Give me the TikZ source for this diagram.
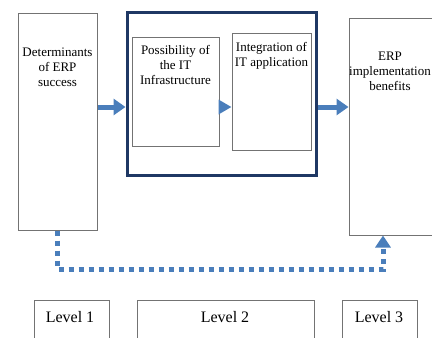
\documentclass[tikz,border=0pt]{standalone}
\usepackage{fontspec}
\setmainfont{Liberation Serif}
\usetikzlibrary{arrows.meta}
\definecolor{arrblue}{RGB}{74,126,187}
\definecolor{navy}{RGB}{31,56,100}
\definecolor{boxgray}{RGB}{115,115,115}
\begin{document}
\begin{tikzpicture}[x=1pt,y=-1pt,
  box/.style={draw=boxgray, line width=1pt, inner sep=0, minimum width=#1},
  txt/.style={font=\fontsize{13}{15}\selectfont, align=center, anchor=north, inner sep=0},
  lvl/.style={font=\fontsize{16}{18}\selectfont, inner sep=0},
  bigarrow/.style={draw=arrblue, line width=5pt, -{Triangle[length=12pt,width=16pt]}},
  dotline/.style={draw=arrblue, line width=5pt, dash pattern=on 5pt off 5pt, -{Triangle[length=12pt,width=15pt]}}]
\useasboundingbox (0,0) rectangle (432,338);
% boxes
\node[box=79pt, minimum height=217pt] (det) at (57.5,121.5) {};
\node[draw=navy, line width=3pt, minimum width=189pt, minimum height=163pt, inner sep=0] (outer) at (221.5,93.5) {};
\node[box=87pt, minimum height=109pt] (infra) at (175.5,91.5) {};
\node[box=79pt, minimum height=117pt] (integ) at (271.5,91.5) {};
\node[box=100pt, minimum height=217pt] (ben) at (399,126.5) {};
% texts
\node[txt] (detT) at (57.5,48) {Determinants\\of ERP\\success};
\node[txt] (infraT) at (175.5,45) {Possibility of\\the IT\\Infrastructure};
\node[txt] (integT) at (271.5,42) {Integration of\\IT application};
\node[txt] (benT) at (390,52) {ERP\\implementation\\benefits};
% level boxes
\node[box=75pt, minimum height=50pt, anchor=north west] (l1) at (34,300) {};
\node[box=177pt, minimum height=50pt, anchor=north west] (l2) at (137,300) {};
\node[box=75pt, minimum height=50pt, anchor=north west] (l3) at (342,300) {};
\node[lvl] (l1T) at (70,317) {Level 1};
\node[lvl] (l2T) at (225,317) {Level 2};
\node[lvl] (l3T) at (379,317) {Level 3};
% arrows
\coordinate (ay) at (0,107);
\draw[bigarrow] (det.east |- ay) -- (outer.west |- ay);
\draw[bigarrow, -{Triangle[length=13pt,width=14pt]}] (infra.east |- ay) -- (integ.west |- ay);
\draw[bigarrow] (outer.east |- ay) -- (ben.west |- ay);
% dotted feedback
\coordinate (dstart) at (57,0);
\coordinate (dend) at (383,0);
\coordinate (dlow) at (0,269);
\draw[dotline] (det.south -| dstart) -- (dstart |- dlow) -- (dend |- dlow) -- (ben.south -| dend);
\end{tikzpicture}
\end{document}
